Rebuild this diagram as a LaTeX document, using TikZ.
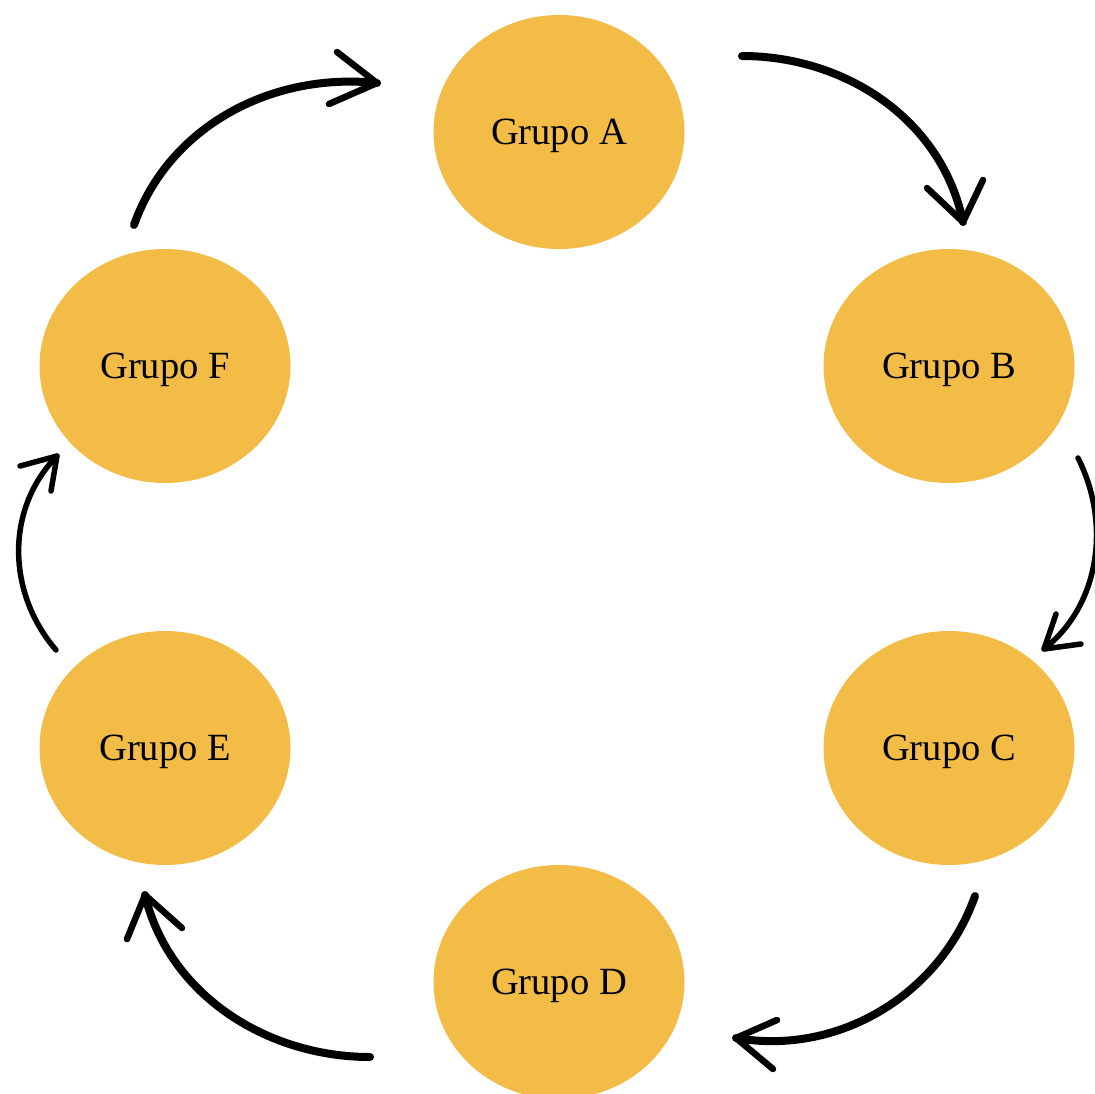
\documentclass[tikz,border=0pt]{standalone}
\usepackage{fontspec}
\setmainfont{Liberation Serif}
\usetikzlibrary{shapes.geometric}
\definecolor{grpfill}{HTML}{F2BC46}
\tikzset{
  grupo/.style={ellipse, fill=grpfill, draw=none, minimum width=251pt, minimum height=234pt, inner sep=0pt, text depth=0pt, font=\fontsize{38.5}{40}\selectfont},
  bigarc/.style={line width=8pt, line cap=round, line join=round},
  bighead/.style={line width=6.5pt, line cap=round, line join=round},
  smallarc/.style={line width=5.5pt, line cap=round, line join=round},
}
\begin{document}
\begin{tikzpicture}[x=1pt,y=-1pt]
\useasboundingbox (0,0) rectangle (1095,1093);
\clip (0,0) rectangle (1095,1093);
\node[grupo] (A) at (559,132) {Grupo A};
\node[grupo] (B) at (949,366) {Grupo B};
\node[grupo] (C) at (949,748) {Grupo C};
\node[grupo] (D) at (559,982) {Grupo D};
\node[grupo] (E) at (165,748) {Grupo E};
\node[grupo] (F) at (165,366) {Grupo F};
% A -> B
\coordinate (ab0) at (742,56);
\coordinate (ab1) at (963,222);
\coordinate (abh1) at (927,188);
\coordinate (abh2) at (983,180);
\draw[bigarc] (ab0) .. controls (846,56) and (942,120) .. (ab1);
\draw[bighead] (abh1) -- (ab1) -- (abh2);
% B -> C
\coordinate (bc0) at (1078,458);
\coordinate (bc1) at (1044,649);
\coordinate (bch1) at (1056,614);
\coordinate (bch2) at (1081,644);
\draw[smallarc] (bc0) .. controls (1111,523) and (1100,605) .. (bc1);
\draw[smallarc] (bch1) -- (bc1) -- (bch2);
% C -> D
\coordinate (cd0) at (975,896);
\coordinate (cd1) at (736,1038);
\coordinate (cdh1) at (777,1020);
\coordinate (cdh2) at (773,1069);
\draw[bigarc] (cd0) .. controls (940,995) and (838,1056) .. (cd1);
\draw[bighead] (cdh1) -- (cd1) -- (cdh2);
% D -> E
\coordinate (de0) at (370,1057);
\coordinate (de1) at (145,895);
\coordinate (deh1) at (127,939);
\coordinate (deh2) at (182,928);
\draw[bigarc] (de0) .. controls (267,1057) and (169,995) .. (de1);
\draw[bighead] (deh1) -- (de1) -- (deh2);
% E -> F
\coordinate (ef0) at (56,650);
\coordinate (ef1) at (57,456);
\coordinate (efh1) at (20,466);
\coordinate (efh2) at (51,491);
\draw[smallarc] (ef0) .. controls (7,593) and (5,509) .. (ef1);
\draw[smallarc] (efh1) -- (ef1) -- (efh2);
% F -> A
\coordinate (fa0) at (134,225);
\coordinate (fa1) at (377,83);
\coordinate (fah1) at (337,52);
\coordinate (fah2) at (329,104);
\draw[bigarc] (fa0) .. controls (169,126) and (272,72) .. (fa1);
\draw[bighead] (fah1) -- (fa1) -- (fah2);
\end{tikzpicture}
\end{document}
